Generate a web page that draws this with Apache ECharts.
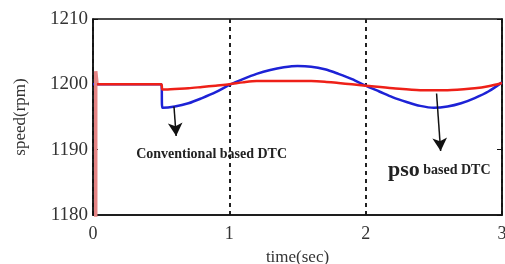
<!DOCTYPE html>
<html>
<head>
<meta charset="utf-8">
<script src="https://cdn.jsdelivr.net/npm/echarts@6/dist/echarts.min.js"></script>
<style>
  html, body { margin: 0; padding: 0; background: #fff; }
  #speedChart { width: 505px; height: 264px; }
</style>
</head>
<body>
<div id="speedChart"></div>
<script>
// time (sec) and speed (rpm)
var blueTime = [0, 0.5, 0.51, 0.6, 0.7, 0.8, 0.9, 1.0, 1.1, 1.2, 1.3, 1.4, 1.5, 1.6, 1.7, 1.8, 1.9, 2.0, 2.1, 2.2, 2.3, 2.4, 2.5, 2.6, 2.7, 2.8, 2.9, 3.0];
var blueSpeed = [1200, 1200, 1196.4, 1196.6, 1197.1, 1197.9, 1198.8, 1199.9, 1200.8, 1201.6, 1202.2, 1202.6, 1202.8, 1202.7, 1202.3, 1201.6, 1200.8, 1199.8, 1198.9, 1198.0, 1197.3, 1196.7, 1196.4, 1196.6, 1197.1, 1197.9, 1198.9, 1200.3];

var redTime = [0.03, 0.5, 0.51, 0.6, 0.7, 0.8, 0.9, 1.0, 1.1, 1.2, 1.4, 1.6, 1.7, 1.8, 1.9, 2.0, 2.2, 2.4, 2.5, 2.6, 2.8, 2.9, 3.0];
var redSpeed = [1200, 1200, 1199.2, 1199.3, 1199.4, 1199.6, 1199.8, 1200.0, 1200.3, 1200.5, 1200.5, 1200.5, 1200.4, 1200.2, 1200.0, 1199.8, 1199.4, 1199.1, 1199.1, 1199.1, 1199.4, 1199.7, 1200.2];

// start-up spike of the red trace
var spikeTime = [0.02, 0.02, 0.03];
var spikeSpeed = [1178, 1202, 1200];

var xTicks = [0, 1, 2, 3];
var yTicks = [1180, 1190, 1200, 1210];

function pairs(xs, ys) {
  return xs.map(function (x, i) { return [x, ys[i]]; });
}

var chart = echarts.init(document.getElementById('speedChart'));
var serif = 'Liberation Serif';

chart.setOption({
  backgroundColor: '#fff',
  animation: false,
  grid: {
    left: 93, right: 3, top: 19, bottom: 49,
    outerBoundsMode: 'none', containLabel: false,
    show: true, borderColor: '#111', borderWidth: 1.5
  },
  xAxis: [{
    type: 'value', min: xTicks[0], max: xTicks[xTicks.length - 1], interval: 1,
    name: 'time(sec)', nameLocation: 'middle', nameGap: 34,
    nameTextStyle: { fontFamily: serif, fontSize: 17, color: '#333' },
    axisLine: { lineStyle: { color: '#111', width: 1.5 } },
    axisTick: { show: false },
    axisLabel: { fontFamily: serif, fontSize: 18, color: '#333', margin: 10 },
    splitLine: { show: true, lineStyle: { color: '#222', type: [4, 4], width: 2 } }
  }],
  yAxis: [{
    type: 'value', min: yTicks[0], max: yTicks[yTicks.length - 1], interval: 10,
    name: 'speed(rpm)', nameLocation: 'middle', nameGap: 64,
    nameTextStyle: { fontFamily: serif, fontSize: 17, color: '#333' },
    axisLine: { show: true, lineStyle: { color: '#111', width: 1.5 } },
    axisTick: { show: true, inside: true, length: 5, lineStyle: { color: '#111' } },
    axisLabel: {
      fontFamily: serif, fontSize: 19, color: '#333', margin: 5,
      formatter: function (v) { return String(v); }
    },
    splitLine: { show: false }
  }, {
    type: 'value', min: yTicks[0], max: yTicks[yTicks.length - 1], interval: 10,
    position: 'right',
    axisLine: { show: true, lineStyle: { color: '#111', width: 1.5 } },
    axisTick: { show: true, inside: true, length: 5, lineStyle: { color: '#111' } },
    axisLabel: { show: false },
    splitLine: { show: false }
  }],
  series: [
    {
      name: 'Conventional based DTC', type: 'line', data: pairs(blueTime, blueSpeed),
      showSymbol: false, smooth: 0.3,
      lineStyle: { color: '#1d22d6', width: 2.5 }
    },
    {
      name: 'spike', type: 'line', data: pairs(spikeTime, spikeSpeed),
      showSymbol: false,
      lineStyle: { color: '#e58585', width: 3.5 }
    },
    {
      name: 'PSO based DTC', type: 'line', data: pairs(redTime, redSpeed),
      showSymbol: false, smooth: 0.3,
      lineStyle: { color: '#ee2018', width: 2.5 },
      markLine: {
        silent: true, symbol: ['none', 'arrow'], symbolSize: [11, 13],
        lineStyle: { color: '#111', width: 1.5, type: 'solid' },
        label: { show: false },
        data: [
          [{ coord: [0.594, 1196.6] }, { coord: [0.61, 1192.1] }],
          [{ coord: [2.52, 1198.6] }, { coord: [2.55, 1189.8] }]
        ]
      },
      markPoint: {
        silent: true, symbol: 'circle', symbolSize: 0,
        data: [
          {
            coord: [0.87, 1189.3],
            label: {
              show: true, formatter: 'Conventional based DTC',
              fontFamily: serif, fontWeight: 'bold', fontSize: 14, color: '#222'
            }
          },
          {
            coord: [2.54, 1186.9],
            label: {
              show: true, formatter: '{a|pso} {b|based DTC}',
              rich: {
                a: { fontFamily: serif, fontSize: 22, color: '#222', fontWeight: 'bold' },
                b: { fontFamily: serif, fontSize: 14, color: '#222', fontWeight: 'bold' }
              }
            }
          }
        ]
      }
    }
  ]
});
</script>
</body>
</html>
